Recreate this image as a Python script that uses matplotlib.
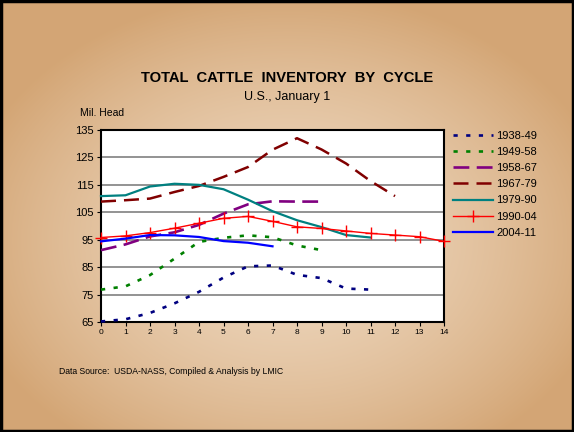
import numpy as np
import matplotlib
matplotlib.use("Agg")
import matplotlib.pyplot as plt
from matplotlib.patches import Rectangle

plt.rcParams['font.family'] = ['Liberation Sans', 'DejaVu Sans']

# Data: January 1 cattle inventory, million head, by cycle year
c1938_49 = [65.2, 66.0, 68.3, 71.8, 76.0, 81.2, 85.3, 85.6, 82.2, 81.0, 77.2, 76.8]
c1949_58 = [76.8, 78.0, 82.1, 88.1, 94.2, 95.7, 96.6, 95.9, 92.9, 91.2]
c1958_67 = [91.2, 93.3, 96.2, 97.7, 100.4, 104.5, 107.9, 109.0, 108.9, 108.9]
c1967_79 = [108.9, 109.4, 110.0, 112.4, 114.6, 117.9, 121.5, 127.8, 132.0, 127.9, 122.8, 116.4, 110.9]
c1979_90 = [110.9, 111.2, 114.4, 115.4, 115.0, 113.4, 109.6, 105.4, 102.1, 99.6, 96.7, 95.8]
c1990_04 = [95.8, 96.4, 97.6, 99.2, 101.0, 102.8, 103.5, 101.7, 99.7, 99.1, 98.2, 97.3, 96.7, 96.1, 94.4]
c2004_11 = [94.4, 95.4, 96.7, 96.6, 96.0, 94.5, 93.9, 92.6]

series = [
    ("1938-49", c1938_49, "#000080", (0, (1.6, 3.2)), 1.9, None),
    ("1949-58", c1949_58, "#008000", (0, (1.6, 3.2)), 1.9, None),
    ("1958-67", c1958_67, "#800080", (0, (6, 2.8)), 1.9, None),
    ("1967-79", c1967_79, "#800000", (0, (6, 3.2)), 1.8, None),
    ("1979-90", c1979_90, "#008080", "-", 1.6, None),
    ("1990-04", c1990_04, "#FF0000", "-", 1.0, "+"),
    ("2004-11", c2004_11, "#0000FF", "-", 1.6, None),
]

fig = plt.figure(figsize=(5.74, 4.32), dpi=100)

# radial tan background
bg = fig.add_axes([0, 0, 1, 1], zorder=-10)
yy, xx = np.mgrid[0:432, 0:574]
r = np.sqrt(((xx - 287) / 330.0) ** 2 + ((yy - 240) / 250.0) ** 2)
r = np.clip(r, 0, 1)
inner = np.array([0.93, 0.84, 0.74])
outer = np.array([0.83, 0.65, 0.46])
w = r[..., None] ** 1.6
img = inner[None, None, :] * (1 - w) + outer[None, None, :] * w
bg.imshow(img, extent=[0, 1, 0, 1], aspect='auto')
bg.add_patch(Rectangle((0.002, 0.003), 0.996, 0.994, fill=False, edgecolor='black', linewidth=2.5))
bg.set_xlim(0, 1)
bg.set_ylim(0, 1)
bg.axis('off')

ax = fig.add_axes([101 / 574, 1 - 322 / 432, 343 / 574, 192 / 432])
ax.set_facecolor('white')
for y in range(75, 135, 10):
    ax.axhline(y, color='#808080', linewidth=1.2, zorder=1)

handles = []
for name, vals, col, ls, lw, mk in series:
    x = np.arange(len(vals))
    h, = ax.plot(x, vals, color=col, linestyle=ls, linewidth=lw, marker=mk,
                 markersize=9, markeredgewidth=1.0, label=name, zorder=3, clip_on=False)
    handles.append(h)

ax.set_xlim(0, 14)
ax.set_ylim(65, 135)
ax.set_xticks(range(0, 15))
ax.set_yticks(range(65, 136, 10))
ax.tick_params(axis='x', labelsize=6, length=3, direction='out', pad=2)
ax.tick_params(axis='y', labelsize=8, length=3, direction='out', pad=2)
for s in ax.spines.values():
    s.set_linewidth(1.5)

fig.legend(handles=handles, loc='upper left', bbox_to_anchor=(453 / 574, 1 - 131 / 432),
           frameon=False, fontsize=8, handlelength=3.6, handletextpad=0.3,
           labelspacing=0.55, borderaxespad=0, borderpad=0)

fig.text(0.5, 1 - 78 / 432, "TOTAL  CATTLE  INVENTORY  BY  CYCLE", ha='center', va='center',
         fontsize=10.6, fontweight='bold')
fig.text(0.5, 1 - 97 / 432, "U.S., January 1", ha='center', va='center', fontsize=9)
fig.text(80 / 574, 1 - 113 / 432, "Mil. Head", ha='left', va='center', fontsize=7.5)
fig.text(59 / 574, 1 - 371 / 432, "Data Source:  USDA-NASS, Compiled & Analysis by LMIC",
         ha='left', va='center', fontsize=6.2)

fig.savefig("out.png", dpi=100)
